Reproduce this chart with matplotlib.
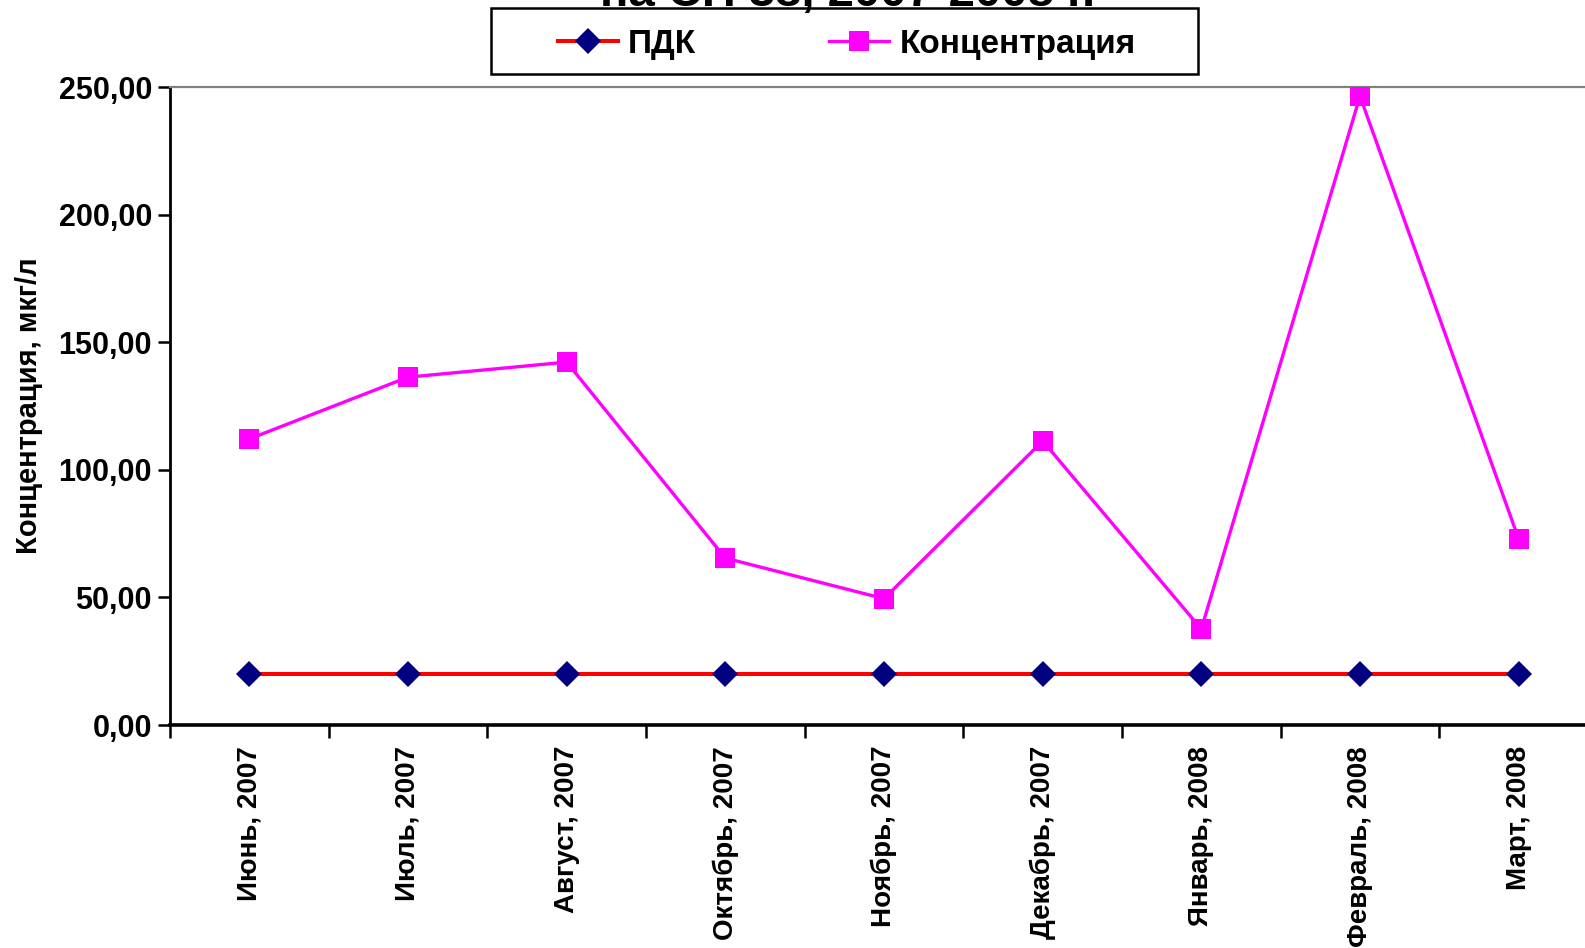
import matplotlib
matplotlib.use("Agg")
import matplotlib.pyplot as plt
from matplotlib.patches import Rectangle
from matplotlib.ticker import FixedLocator, FuncFormatter

plt.rcParams['font.family'] = ['Liberation Sans', 'DejaVu Sans']
plt.rcParams['font.weight'] = 'bold'

months = ["Июнь, 2007", "Июль, 2007", "Август, 2007", "Октябрь, 2007",
          "Ноябрь, 2007", "Декабрь, 2007", "Январь, 2008", "Февраль, 2008",
          "Март, 2008"]
pdk = [20, 20, 20, 20, 20, 20, 20, 20, 20]
concentration = [112.1, 136.3, 142.2, 65.4, 49.5, 111.3, 37.6, 246.4, 72.9]
y_ticks = [0, 50, 100, 150, 200, 250]

W, H = 1585, 948
fig = plt.figure(figsize=(W / 100, H / 100), dpi=100)
left, right, top, bottom = 170, 1598, 87, 725
ax = fig.add_axes([left / W, 1 - bottom / H, (right - left) / W, (bottom - top) / H])

x = list(range(len(months)))
ax.plot(x, pdk, color='#ff0000', lw=2.9, marker='D', ms=13,
        mfc='#000080', mec='#000080', mew=0, label='ПДК', zorder=3)
ax.plot(x, concentration, color='#ff00ff', lw=2.4, marker='s', ms=14.5,
        mfc='#ff00ff', mec='#ff00ff', mew=0, label='Концентрация', zorder=4)

ax.set_xlim(-0.5, len(months) - 0.5)
ax.set_ylim(0, 250)

# category labels centred on points, tick marks on category boundaries
ax.set_xticks(x)
ax.set_xticklabels(months, rotation=90, fontsize=20, fontweight='bold')
ax.tick_params(axis='x', which='major', length=0, pad=15)
ax.xaxis.set_minor_locator(FixedLocator([i - 0.5 for i in range(len(months) + 1)]))
ax.tick_params(axis='x', which='minor', length=9, width=1.8, direction='out', color='black')

ax.yaxis.set_major_locator(FixedLocator(y_ticks))
ax.yaxis.set_major_formatter(FuncFormatter(lambda v, p: f"{v:.2f}".replace('.', ',')))
ax.tick_params(axis='y', length=9, width=1.8, direction='out', labelsize=22, pad=4)
for lbl in ax.get_yticklabels():
    lbl.set_fontweight('bold')

ax.set_ylabel("Концентрация, мкг/л", fontsize=21, fontweight='bold')
ax.yaxis.set_label_coords((29 - left) / (right - left), 0.5)
ax.yaxis.label.set_va('center')

for s in ('left', 'bottom'):
    ax.spines[s].set_color('black')
ax.spines['left'].set_linewidth(2.0)
ax.spines['bottom'].set_linewidth(2.6)
ax.spines['top'].set_color('#808080')
ax.spines['top'].set_linewidth(1.6)
ax.spines['right'].set_visible(False)

fig.text(0.535, 1 - 6 / H, "на СП 38, 2007-2008 г.", ha='center', va='baseline',
         fontsize=34, fontweight='bold')

# legend box
bx0, bx1, by0, by1 = 491, 1198, 8, 74
fig.patches.append(Rectangle((bx0 / W, 1 - by1 / H), (bx1 - bx0) / W, (by1 - by0) / H,
                             transform=fig.transFigure, fill=True, facecolor='white',
                             edgecolor='black', linewidth=1.8, zorder=1))
leg = fig.legend(loc='center', bbox_to_anchor=(0.5342, 1 - 44 / H), ncol=2,
                 fontsize=24, frameon=False,
                 handlelength=1.8, columnspacing=4.0, handletextpad=0.3,
                 borderpad=0.2, borderaxespad=0)
leg.set_zorder(2)
for t in leg.get_texts():
    t.set_fontweight('bold')

fig.savefig("out.png", dpi=100, facecolor='white')
